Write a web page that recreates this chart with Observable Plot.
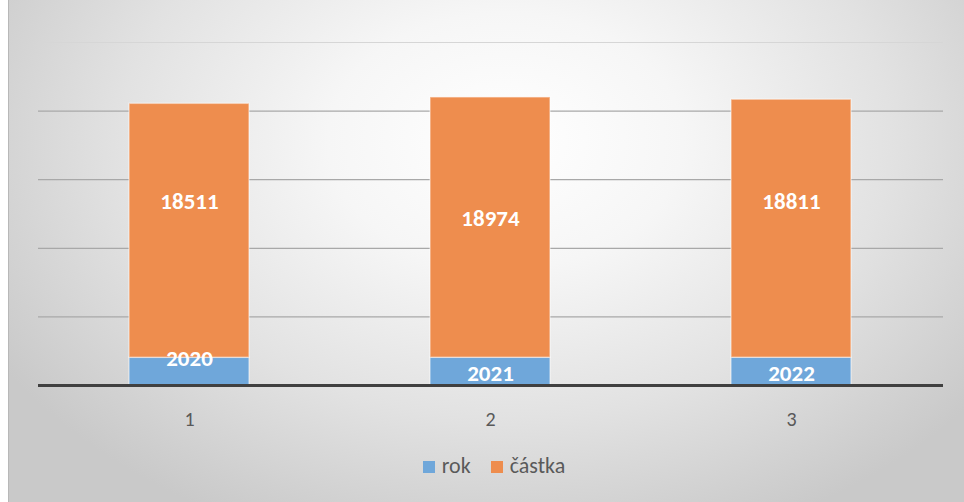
<!DOCTYPE html>
<html>
<head>
<meta charset="utf-8">
<script src="https://cdn.jsdelivr.net/npm/d3@7"></script>
<script src="https://cdn.jsdelivr.net/npm/@observablehq/plot@0.6"></script>
<style>
  html, body { margin: 0; padding: 0; background: #ffffff; }
  #wrap { position: relative; width: 964px; height: 502px; overflow: hidden; }
  #bg { position: absolute; left: 8px; top: 0; width: 956px; height: 502px;
        border-left: 1px solid #b8b8b8; box-sizing: border-box;
        background: radial-gradient(ellipse 62% 85% at 52% 28%, #ffffff 0%, #f6f6f6 30%, #e2e2e2 65%, #c9c9c9 100%); }
  #plot { position: absolute; left: 0; top: 0; }
  #legend { position: absolute; left: 12px; top: 452px; width: 964px; display: flex; justify-content: center;
            font-family: Carlito, Lato, "Open Sans", sans-serif; font-size: 22px; color: #595959; gap: 20px; }
  .item { display: flex; align-items: center; }
  .sw { width: 12px; height: 12px; margin-right: 7px; margin-top: 3px; }
</style>
</head>
<body>
<div id="wrap">
  <div id="bg"></div>
  <div id="plot"></div>
  <div id="legend"></div>
</div>
<script>
const categories = ["1", "2", "3"];
const rok = [2020, 2021, 2022];
const castka = [18511, 18974, 18811];
const seriesNames = ["rok", "částka"];
const yTicks = [0, 5000, 10000, 15000, 20000, 25000];

const colors = {"rok": "#6fa7da", "částka": "#ee8d4e"};
// pixel nudges of the data labels as placed in the original
const labelShift = {"rok": [-13, 2, 2], "částka": [-29, -9, -27]};

const rows = [];
categories.forEach((c, i) => {
  rows.push({cat: c, series: "rok", value: rok[i], i});
  rows.push({cat: c, series: "částka", value: castka[i], i});
});

const font = "Carlito, Lato, 'Open Sans', sans-serif";

const labelMarks = [];
rows.forEach(r => {
  const below = rows.filter(d => d.cat === r.cat && seriesNames.indexOf(d.series) < seriesNames.indexOf(r.series))
                    .reduce((s, d) => s + d.value, 0);
  labelMarks.push(Plot.text([r], {
    x: "cat", y: d => below + d.value / 2, text: d => String(d.value),
    fill: "white", fontWeight: "bold", fontSize: 23, fontFamily: font,
    dy: labelShift[r.series][r.i]
  }));
});

const chart = Plot.plot({
  width: 964,
  height: 440,
  marginLeft: 38,
  marginRight: 21,
  marginTop: 42,
  marginBottom: 55,
  style: {background: "transparent", fontFamily: font},
  x: {domain: categories, paddingInner: 0.6, paddingOuter: 0.3, axis: null},
  y: {domain: [0, 25000], axis: null},
  marks: [
    Plot.ruleY(yTicks.filter(t => t > 0), {stroke: t => t === 25000 ? "#d6d6d6" : "#a8a8a8", strokeWidth: 1.2}),
    Plot.barY(rows, Plot.stackY({x: "cat", y: "value", z: "series", order: seriesNames,
      fill: d => colors[d.series], stroke: "#ffffff", strokeOpacity: 0.45, strokeWidth: 1.5})),
    Plot.ruleY([0], {stroke: "#404040", strokeWidth: 3}),
    Plot.text(categories, {x: d => d, text: d => d, frameAnchor: "bottom", dy: 40,
      fontSize: 20, fill: "#595959", fontFamily: font}),
    ...labelMarks
  ]
});
document.getElementById("plot").appendChild(chart);

const legend = document.getElementById("legend");
seriesNames.forEach(s => {
  const it = document.createElement("div");
  it.className = "item";
  const sw = document.createElement("div");
  sw.className = "sw";
  sw.style.background = colors[s];
  const t = document.createElement("span");
  t.textContent = s;
  it.appendChild(sw);
  it.appendChild(t);
  legend.appendChild(it);
});
</script>
</body>
</html>
